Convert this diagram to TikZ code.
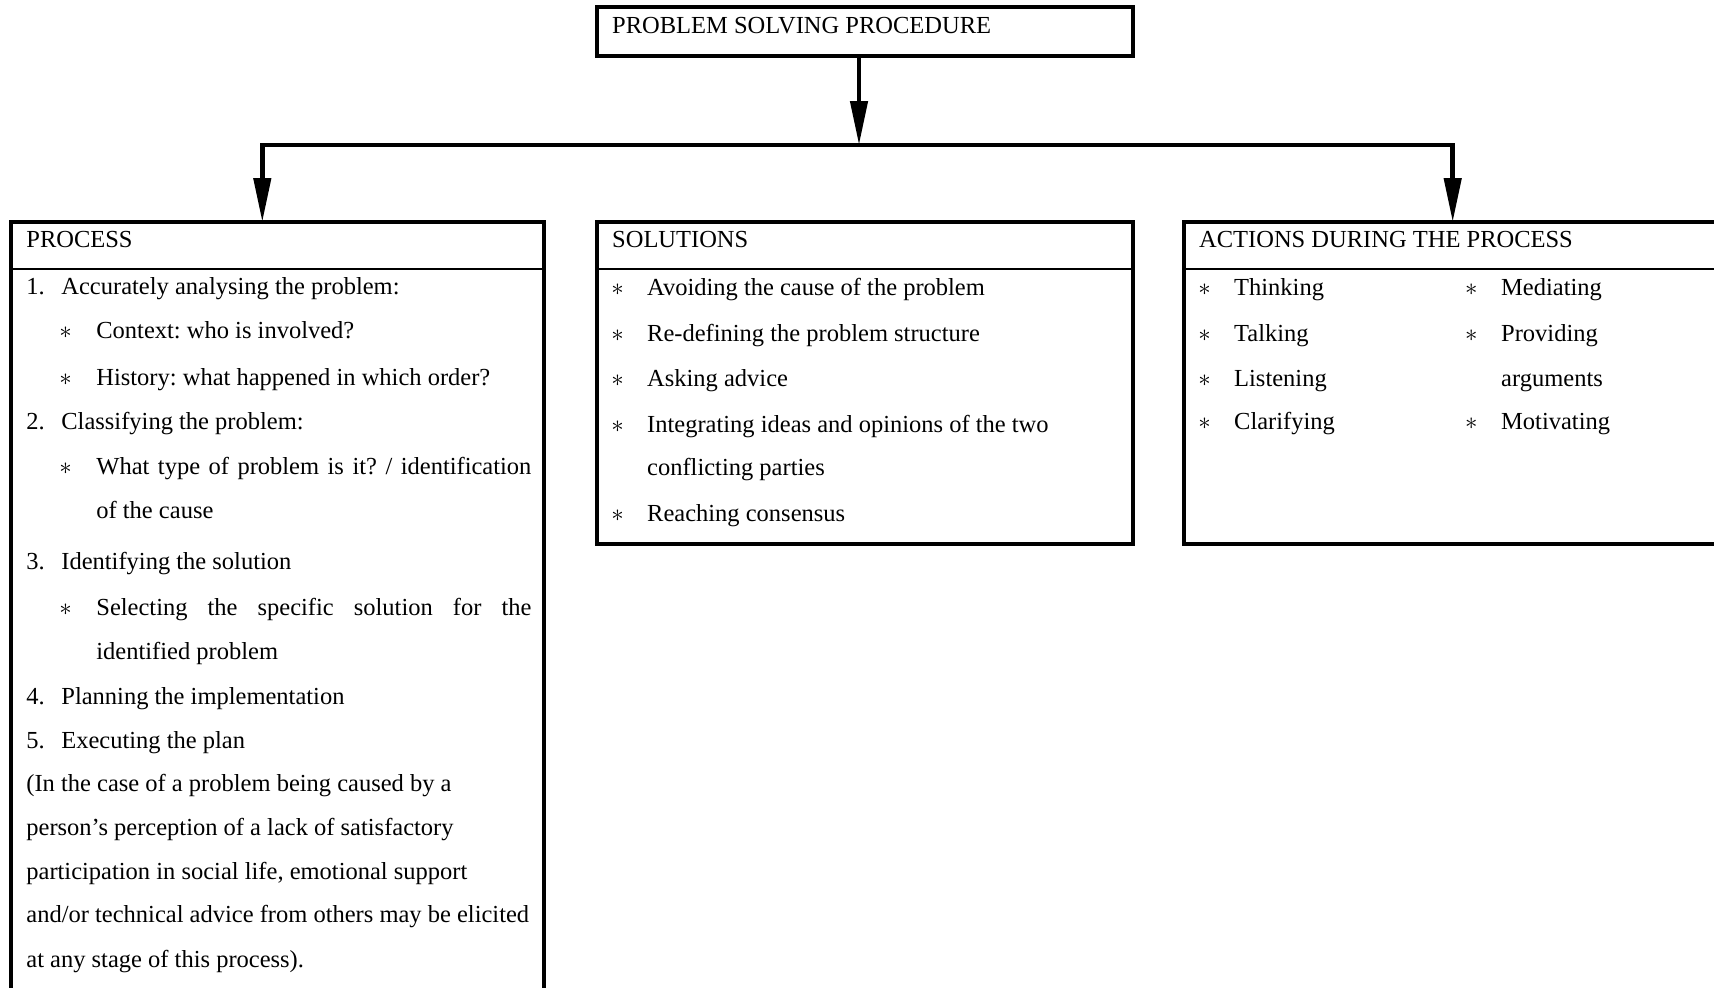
\documentclass[tikz,border=0pt]{standalone}
\usepackage{fontspec}
\setmainfont{Liberation Serif}
\usetikzlibrary{arrows.meta}
\frenchspacing

\tikzset{
  box/.style={draw=black, line width=4pt, rectangle, inner sep=0pt, outer sep=0pt, anchor=north west},
  sepline/.style={draw=black, line width=2.2pt},
  link/.style={draw=black, line width=4.5pt, line join=miter},
  bigtip/.tip={Triangle[length=44pt, width=17pt]},
  txt/.style={anchor=base west, inner sep=0pt, font=\fontsize{24.5}{29}\selectfont},
  bullet/.style={anchor=base, inner sep=0pt, font=\fontsize{24.5}{29}\selectfont}
}

\begin{document}
\begin{tikzpicture}[x=1pt, y=-1pt]
\useasboundingbox (0,0) rectangle (1714,988);
\clip (0,0) rectangle (1714,988);

% ---- boxes ----
\node[box, minimum width=535.7pt, minimum height=49pt] (top) at (596.8,6.6) {};
\node[box, minimum width=533.5pt, minimum height=800pt] (process) at (10.9,222) {};
\node[box, minimum width=535.7pt, minimum height=322.4pt] (solutions) at (596.8,222) {};
\node[box, minimum width=560pt, minimum height=322.4pt] (actions) at (1184,222) {};

% header separators
\coordinate (hy) at (0,269);
\draw[sepline] (process.west |- hy) -- (process.east |- hy);
\draw[sepline] (solutions.west |- hy) -- (solutions.east |- hy);
\draw[sepline] (actions.west |- hy) -- (actions.east |- hy);

% ---- connectors ----
\coordinate (hub) at (859,145);
\coordinate (lc) at (262.3,145);
\coordinate (rc) at (1452.7,145);
\draw[link, -{bigtip}] (top.south -| hub) -- (hub);
\draw[link, {bigtip}-{bigtip}] (process.north -| lc) -- (lc) -- (rc) -- (actions.north -| rc);

% ---- titles ----
\node[txt] (ttop) at (612,33) {PROBLEM SOLVING PROCEDURE};
\node[txt] (tproc) at (26.2,247) {PROCESS};
\node[txt] (tsol) at (612,247) {SOLUTIONS};
\node[txt] (tact) at (1199,247) {ACTIONS DURING THE PROCESS};

% ---- process column ----
\node[txt] (n1) at (26.2,294.4) {1.};
\node[txt] (p1) at (61.2,294.4) {Accurately analysing the problem:};
\node[bullet] (b2) at (65.6,338.1) {$\ast$};
\node[txt] (p2) at (96.2,338.1) {Context: who is involved?};
\node[bullet] (b3) at (65.6,385.1) {$\ast$};
\node[txt] (p3) at (96.2,385.1) {History: what happened in which order?};
\node[txt] (n2) at (26.2,429.9) {2.};
\node[txt] (p4) at (61.2,429.9) {Classifying the problem:};
\node[bullet] (b5) at (65.6,474.8) {$\ast$};
\node[txt] (p5) at (96.2,474.8) {\makebox[435pt][s]{What type of problem is it? / identification}};
\node[txt] (p6) at (96.2,518.5) {of the cause};
\node[txt] (n3) at (26.2,569.9) {3.};
\node[txt] (p7) at (61.2,569.9) {Identifying the solution};
\node[bullet] (b8) at (65.6,615.8) {$\ast$};
\node[txt] (p8) at (96.2,615.8) {\makebox[435pt][s]{Selecting the specific solution for the}};
\node[txt] (p9) at (96.2,659.5) {identified problem};
\node[txt] (n4) at (26.2,704.3) {4.};
\node[txt] (p10) at (61.2,704.3) {Planning the implementation};
\node[txt] (n5) at (26.2,748) {5.};
\node[txt] (p11) at (61.2,748) {Executing the plan};
\node[txt] (p12) at (26.2,791.8) {(In the case of a problem being caused by a};
\node[txt] (p13) at (26.2,835.5) {person’s perception of a lack of satisfactory};
\node[txt] (p14) at (26.2,879.2) {participation in social life, emotional support};
\node[txt] (p15) at (26.2,922.9) {and/or technical advice from others may be elicited};
\node[txt] (p16) at (26.2,967.7) {at any stage of this process).};

% ---- solutions column ----
\node[bullet] (sb1) at (617.6,295.5) {$\ast$};
\node[txt] (s1) at (647,295.5) {Avoiding the cause of the problem};
\node[bullet] (sb2) at (617.6,341.4) {$\ast$};
\node[txt] (s2) at (647,341.4) {Re-defining the problem structure};
\node[bullet] (sb3) at (617.6,386.2) {$\ast$};
\node[txt] (s3) at (647,386.2) {Asking advice};
\node[bullet] (sb4) at (617.6,432.1) {$\ast$};
\node[txt] (s4) at (647,432.1) {Integrating ideas and opinions of the two};
\node[txt] (s5) at (647,475.8) {conflicting parties};
\node[bullet] (sb6) at (617.6,521.8) {$\ast$};
\node[txt] (s6) at (647,521.8) {Reaching consensus};

% ---- actions columns ----
\node[bullet] (ab1) at (1204.6,295.5) {$\ast$};
\node[txt] (a1) at (1234,295.5) {Thinking};
\node[bullet] (ab2) at (1204.6,341.4) {$\ast$};
\node[txt] (a2) at (1234,341.4) {Talking};
\node[bullet] (ab3) at (1204.6,386.2) {$\ast$};
\node[txt] (a3) at (1234,386.2) {Listening};
\node[bullet] (ab4) at (1204.6,429.9) {$\ast$};
\node[txt] (a4) at (1234,429.9) {Clarifying};
\node[bullet] (ab5) at (1471.4,295.5) {$\ast$};
\node[txt] (a5) at (1501,295.5) {Mediating};
\node[bullet] (ab6) at (1471.4,341.4) {$\ast$};
\node[txt] (a6) at (1501,341.4) {Providing};
\node[txt] (a7) at (1501,386.2) {arguments};
\node[bullet] (ab8) at (1471.4,429.9) {$\ast$};
\node[txt] (a8) at (1501,429.9) {Motivating};
\end{tikzpicture}
\end{document}
